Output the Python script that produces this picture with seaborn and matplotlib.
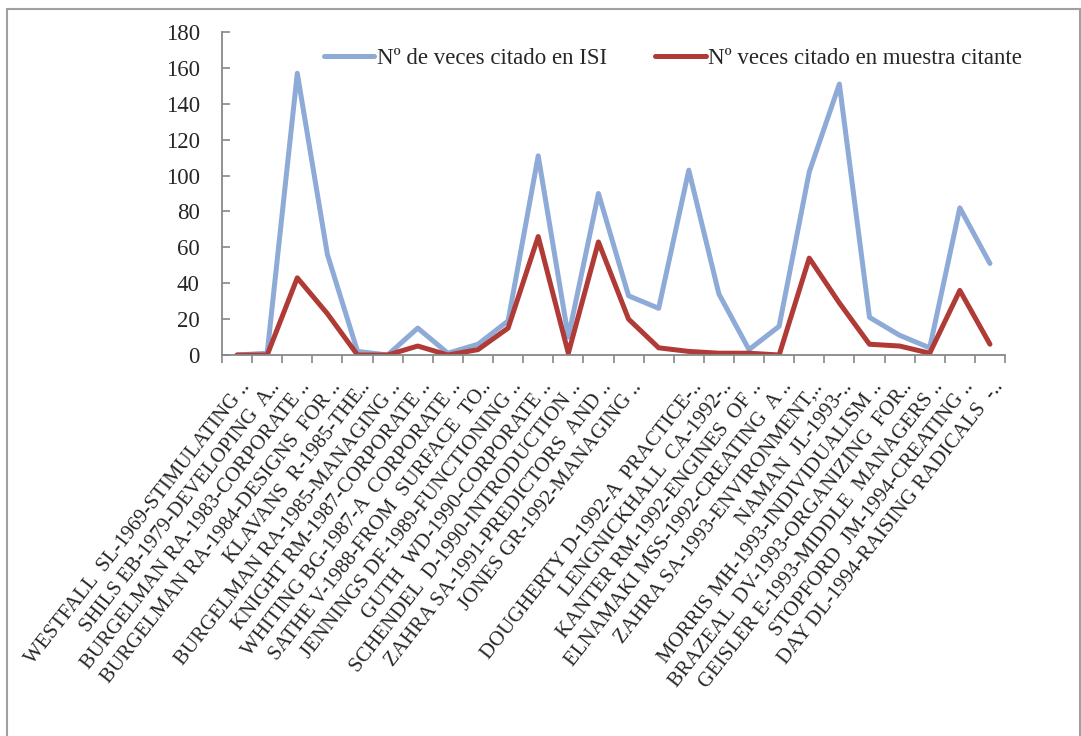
import matplotlib
matplotlib.use("Agg")
import matplotlib.pyplot as plt
import matplotlib.transforms as mtransforms
from matplotlib.patches import Rectangle
from matplotlib.lines import Line2D
import seaborn as sns
import pandas as pd
import numpy as np

articulos = [
    "WESTFALL  SL-1969-STIMULATING ..",
    "SHILS EB-1979-DEVELOPING  A..",
    "BURGELMAN RA-1983-CORPORATE ..",
    "BURGELMAN RA-1984-DESIGNS  FOR ..",
    "KLAVANS  R-1985-THE..",
    "BURGELMAN RA-1985-MANAGING ..",
    "KNIGHT RM-1987-CORPORATE ..",
    "WHITING BG-1987-A  CORPORATE ..",
    "SATHE V-1988-FROM  SURFACE  TO..",
    "JENNINGS DF-1989-FUNCTIONING ..",
    "GUTH  WD-1990-CORPORATE ..",
    "SCHENDEL  D-1990-INTRODUCTION ..",
    "ZAHRA SA-1991-PREDICTORS  AND ..",
    "JONES GR-1992-MANAGING ..",
    "",
    "DOUGHERTY D-1992-A  PRACTICE-..",
    "LENGNICKHALL  CA-1992-..",
    "KANTER RM-1992-ENGINES  OF ..",
    "ELNAMAKI MSS-1992-CREATING  A ..",
    "ZAHRA SA-1993-ENVIRONMENT,..",
    "NAMAN  JL-1993-..",
    "MORRIS MH-1993-INDIVIDUALISM ..",
    "BRAZEAL  DV-1993-ORGANIZING  FOR..",
    "GEISLER E-1993-MIDDLE  MANAGERS ..",
    "STOPFORD  JM-1994-CREATING ..",
    "DAY DL-1994-RAISING RADICALS  -..",
]
citas_isi = [0, 1, 157, 56, 2, 0, 15, 1, 6, 19, 111, 10, 90,
             33, 26, 103, 34, 3, 16, 102, 151, 21, 11, 4, 82, 51]
citas_muestra = [0, 0, 43, 23, 0, 0, 5, 0, 3, 15, 66, 1, 63,
                 20, 4, 2, 1, 1, 0, 54, 29, 6, 5, 1, 36, 6]
series = ["Nº de veces citado en ISI", "Nº veces citado en muestra citante"]
colores = ["#8eaad6", "#b03a36"]

df = pd.DataFrame({
    "pos": list(range(len(articulos))) * 2,
    "valor": citas_isi + citas_muestra,
    "serie": [series[0]] * len(articulos) + [series[1]] * len(articulos),
})

sns.set_style("white")
plt.rcParams["font.family"] = ["Liberation Serif", "DejaVu Serif"]

fig = plt.figure(figsize=(10.81, 7.36), dpi=100)
ax = fig.add_axes([222 / 1081, 1 - 355 / 736, 783 / 1081, 323 / 736])

sns.lineplot(data=df, x="pos", y="valor", hue="serie", palette=colores,
             linewidth=3.6, ax=ax, legend=False)

ax.set_xlim(-0.5, len(articulos) - 0.5)
ax.set_ylim(0, 180)
ax.set_yticks(range(0, 181, 20))
ax.set_xticks(range(len(articulos)))
ax.set_xticks(np.arange(-0.5, len(articulos), 1), minor=True)
ax.set_xlabel("")
ax.set_ylabel("")

for s in ["top", "right"]:
    ax.spines[s].set_visible(False)
for s in ["left", "bottom"]:
    ax.spines[s].set_color("#888888")
    ax.spines[s].set_linewidth(1.3)

ax.tick_params(axis="y", direction="in", length=6, width=1.2, color="#888888",
               labelsize=16.5, pad=16, left=True)
ax.tick_params(axis="x", which="major", length=0, pad=18)
ax.tick_params(axis="x", which="minor", direction="out", length=6, width=1.2,
               color="#888888", bottom=True)

ax.set_xticklabels(articulos, rotation=52, ha="right", va="center",
                   rotation_mode="anchor", fontsize=15)
offset = mtransforms.ScaledTranslation(10 / 100, -4 / 100, fig.dpi_scale_trans)
for lab in ax.get_xticklabels():
    lab.set_transform(lab.get_transform() + offset)

handles = [Line2D([], [], color=c, linewidth=3.6) for c in colores]
ax.legend(handles, series, ncol=2, frameon=False, fontsize=16.5,
          loc="center", bbox_to_anchor=(0.576, 0.918),
          handlelength=2.2, handletextpad=0.12, columnspacing=2.1)

fig.patches.append(Rectangle((7 / 1081, -0.05), 1073 / 1081, 1.05 - 9 / 736,
                             transform=fig.transFigure, fill=False,
                             edgecolor="#a0a0a0", linewidth=1.5))

fig.savefig("out.png", dpi=100)
